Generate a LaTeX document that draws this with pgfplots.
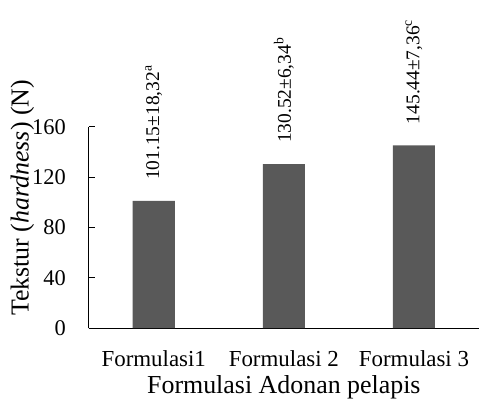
\documentclass[border=0pt]{standalone}
\usepackage{fontspec}
\setmainfont{Liberation Serif}
\usepackage{pgfplots}
\pgfplotsset{compat=1.18}
\definecolor{barc}{HTML}{595959}
\begin{document}
\begin{tikzpicture}
\begin{axis}[
  name=ax,
  scale only axis,
  width=390.3bp, height=201bp,
  xmin=0, xmax=3, ymin=0, ymax=160,
  axis lines*=left,
  axis line style={line width=1bp, black},
  xtick={0.5,1.5,2.5},
  xticklabels={Formulasi1, Formulasi 2, Formulasi 3},
  ytick={0,40,80,120,160},
  major x tick style={draw=none},
  ytick align=inside,
  major tick length=6bp,
  major y tick style={line width=1bp, black},
  /pgf/number format/assume math mode=true,
  yticklabel style={anchor=east, inner sep=0pt, xshift=-22.7bp, font=\fontsize{22.5}{26}\selectfont},
  xticklabel style={anchor=north, inner sep=0pt, yshift=-22.6bp, font=\fontsize{23}{26}\selectfont},
  xlabel={Formulasi Adonan pelapis},
  xlabel style={at={(axis description cs:0.5,0)}, anchor=base, yshift=-65.5bp, inner sep=0pt, font=\fontsize{26}{30}\selectfont},
  ylabel={Tekstur (\textit{hardness}) (N)},
  ylabel style={at={(axis description cs:-0.1537,0.647)}, anchor=base, inner sep=0pt, font=\fontsize{26}{30}\selectfont},
  nodes near coords,
  point meta=explicit symbolic,
  every node near coord/.append style={rotate=90, anchor=west, inner sep=0pt, xshift=21bp, font=\fontsize{19.5}{22}\selectfont},
]
\addplot[ybar, bar width=0.323, fill=barc, draw=none] coordinates {
  (0.5,101.15) [{101.15±18,32\textsuperscript{a}}]
  (1.5,130.52) [{130.52±6,34\textsuperscript{b}}]
  (2.5,145.44) [{145.44±7,36\textsuperscript{c}}]
};
\end{axis}
\pgfresetboundingbox
\path[use as bounding box] ([xshift=-88.7bp,yshift=-71bp]ax.south west) rectangle ([yshift=127bp]ax.north east);
\end{tikzpicture}
\end{document}
